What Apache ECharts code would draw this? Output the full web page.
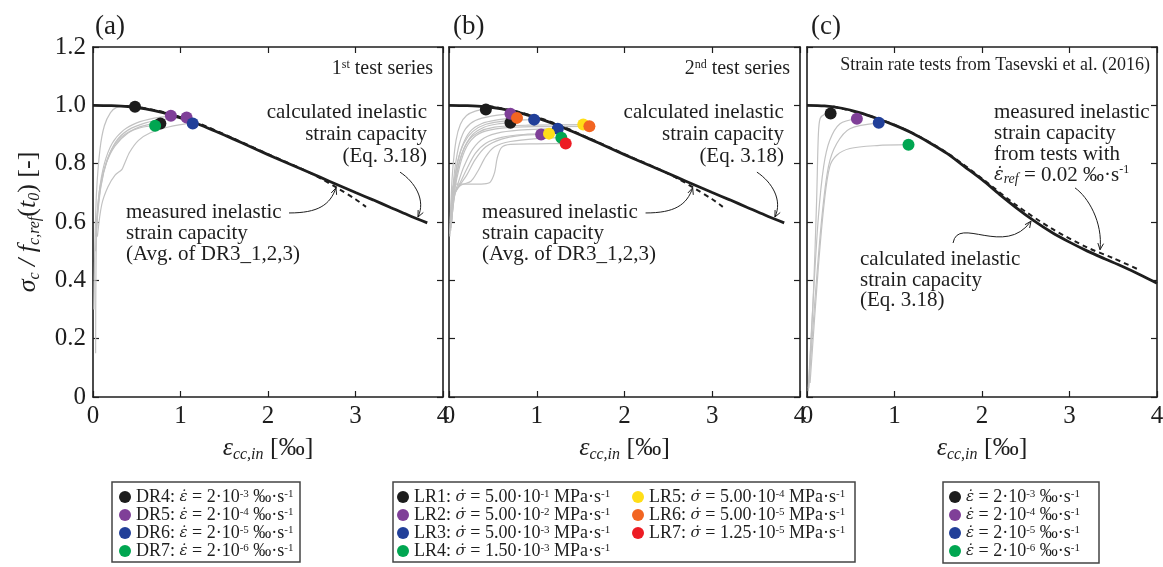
<!DOCTYPE html>
<html>
<head>
<meta charset="utf-8">
<script src="https://cdn.jsdelivr.net/npm/echarts@6/dist/echarts.min.js"></script>
<style>
  html, body { margin: 0; padding: 0; background: #fff; }
  #chart { width: 1163px; height: 567px; }
</style>
</head>
<body>
<div id="chart"></div>
<script>
const SERIF = '"Liberation Serif", "Times New Roman", serif';
const MARK_SERIF = '"DejaVu Serif", serif';
const INK = '#1e1e1e';
const GREY = '#c2c2c2';

// axis ticks
const strainTicks = [0, 1, 2, 3, 4];
const stressTicks = [0, 0.2, 0.4, 0.6, 0.8, 1.0, 1.2];

// calculated inelastic strain capacity (Eq. 3.18), test series 1 and 2
const calcCurveAB = [[0,1.0],[0.2,0.999],[0.4,0.996],[0.6,0.988],[0.8,0.975],[1.0,0.957],[1.2,0.936],[1.4,0.911],[1.6,0.885],[1.8,0.858],[2.0,0.831],[2.2,0.805],[2.4,0.779],[2.6,0.753],[2.8,0.727],[3.0,0.701],[3.2,0.676],[3.4,0.65],[3.6,0.624],[3.82,0.597]];
// measured inelastic strain capacity (avg. of DR3_1,2,3)
const measuredCurveAB = [[0.45,0.998],[0.8,0.977],[1.2,0.939],[1.6,0.887],[2.0,0.833],[2.4,0.78],[2.6,0.75],[2.8,0.715],[3.0,0.678],[3.12,0.652]];
// Tasevski et al. (2016)
const calcCurveC = [[0,1.0],[0.2,0.998],[0.4,0.99],[0.6,0.975],[0.8,0.955],[1.0,0.932],[1.2,0.905],[1.4,0.872],[1.6,0.835],[1.8,0.79],[2.0,0.745],[2.2,0.695],[2.4,0.647],[2.6,0.603],[2.8,0.564],[3.0,0.531],[3.2,0.501],[3.4,0.474],[3.6,0.448],[3.8,0.42],[4.0,0.39]];
const measuredCurveC = [[0.3,0.996],[0.8,0.956],[1.2,0.906],[1.6,0.837],[2.0,0.749],[2.4,0.656],[2.8,0.577],[3.2,0.513],[3.5,0.476],[3.79,0.437]];

// stress-strain test curves, 1st test series
const testCurvesA = [
  [[0.01,0.3],[0.02,0.5],[0.04,0.7],[0.08,0.85],[0.13,0.93],[0.2,0.975],[0.27,0.993],[0.38,0.998]],
  [[0.03,0.15],[0.033,0.4],[0.045,0.6],[0.08,0.72],[0.15,0.8],[0.25,0.86],[0.4,0.905],[0.55,0.924],[0.71,0.93]],
  [[0.03,0.5],[0.06,0.66],[0.12,0.77],[0.2,0.84],[0.32,0.89],[0.48,0.92],[0.62,0.933],[0.77,0.938]],
  [[0.03,0.55],[0.07,0.7],[0.13,0.8],[0.22,0.87],[0.35,0.915],[0.5,0.94],[0.7,0.956],[0.89,0.964]],
  [[0.04,0.58],[0.09,0.72],[0.16,0.81],[0.26,0.875],[0.4,0.915],[0.6,0.94],[0.85,0.954],[1.07,0.958]],
  [[0.05,0.55],[0.1,0.66],[0.17,0.72],[0.25,0.76],[0.33,0.78],[0.36,0.8],[0.42,0.84],[0.52,0.88],[0.65,0.905],[0.85,0.925],[1.0,0.934],[1.14,0.938]]
];
// stress-strain test curves, 2nd test series
const testCurvesB = [
  [[0.01,0.55],[0.02,0.65],[0.04,0.77],[0.08,0.88],[0.13,0.935],[0.2,0.965],[0.3,0.98],[0.42,0.986]],
  [[0.02,0.6],[0.04,0.7],[0.07,0.79],[0.12,0.87],[0.19,0.92],[0.3,0.948],[0.5,0.964],[0.70,0.971]],
  [[0.02,0.58],[0.05,0.7],[0.09,0.79],[0.15,0.86],[0.24,0.91],[0.37,0.937],[0.55,0.95],[0.775,0.957]],
  [[0.03,0.6],[0.06,0.7],[0.1,0.78],[0.17,0.85],[0.27,0.9],[0.4,0.925],[0.55,0.936],[0.70,0.94]],
  [[0.02,0.62],[0.05,0.72],[0.1,0.81],[0.17,0.87],[0.27,0.91],[0.42,0.935],[0.65,0.947],[0.97,0.951]],
  [[0.03,0.64],[0.07,0.74],[0.13,0.82],[0.21,0.875],[0.33,0.907],[0.52,0.925],[0.9,0.932],[1.53,0.934]],
  [[0.04,0.66],[0.09,0.75],[0.16,0.83],[0.25,0.88],[0.38,0.908],[0.6,0.922],[1.0,0.927],[1.60,0.928]],
  [[0.02,0.57],[0.05,0.68],[0.1,0.73],[0.17,0.79],[0.27,0.85],[0.4,0.888],[0.6,0.908],[0.9,0.917],[1.24,0.92]],
  [[0.03,0.6],[0.07,0.7],[0.12,0.73],[0.2,0.78],[0.3,0.835],[0.42,0.87],[0.6,0.89],[0.85,0.9],[1.14,0.903]],
  [[0.02,0.58],[0.06,0.69],[0.11,0.72],[0.2,0.76],[0.3,0.815],[0.42,0.858],[0.6,0.884],[0.8,0.896],[1.05,0.90]],
  [[0.03,0.6],[0.07,0.7],[0.13,0.725],[0.25,0.74],[0.33,0.775],[0.42,0.825],[0.52,0.858],[0.7,0.876],[1.0,0.886],[1.28,0.889]],
  [[0.01,0.56],[0.03,0.68],[0.06,0.73],[0.2,0.73],[0.4,0.731],[0.47,0.737],[0.52,0.77],[0.55,0.82],[0.6,0.856],[0.7,0.866],[1.0,0.868],[1.33,0.869]]
];
// strain rate tests, Tasevski et al. (2016)
const testCurvesC = [
  [[0.015,0.02],[0.07,0.33],[0.11,0.675],[0.13,0.9],[0.15,0.955],[0.2,0.969],[0.27,0.972]],
  [[0.015,0.03],[0.07,0.33],[0.13,0.617],[0.19,0.79],[0.26,0.88],[0.377,0.937],[0.57,0.954]],
  [[0.02,0.03],[0.09,0.33],[0.17,0.617],[0.245,0.79],[0.34,0.869],[0.49,0.92],[0.82,0.94]],
  [[0.035,0.048],[0.13,0.446],[0.2,0.675],[0.26,0.79],[0.34,0.829],[0.49,0.852],[0.8,0.862],[1.16,0.865]]
];

// peak points
const namesA = ['DR4', 'DR5', 'DR6', 'DR7'];
const peaksA = [
  [[0.48,0.995],[0.77,0.938]],
  [[0.89,0.964],[1.07,0.958]],
  [[1.14,0.938]],
  [[0.71,0.93]]
];
const rateExpA = ['-3', '-4', '-5', '-6'];

const namesB = ['LR1', 'LR2', 'LR3', 'LR4', 'LR5', 'LR6', 'LR7'];
const peaksB = [
  [[0.42,0.986],[0.70,0.94]],
  [[0.70,0.971],[1.05,0.90]],
  [[0.97,0.951],[1.24,0.92]],
  [[1.28,0.889]],
  [[1.14,0.903],[1.53,0.934]],
  [[0.775,0.957],[1.60,0.928]],
  [[1.33,0.869]]
];
const rateMantB = ['5.00', '5.00', '5.00', '1.50', '5.00', '5.00', '1.25'];
const rateExpB = ['-1', '-2', '-3', '-3', '-4', '-5', '-5'];

const namesC = ['T4', 'T5', 'T6', 'T7'];
const peaksC = [[[0.27,0.972]], [[0.57,0.954]], [[0.82,0.94]], [[1.16,0.865]]];
const rateExpC = ['-3', '-4', '-5', '-6'];

const colorsA = ['#1c1c1c', '#7f3f98', '#213f99', '#00a651'];
const colorsB = ['#1c1c1c', '#7f3f98', '#213f99', '#00a651', '#ffde17', '#f26522', '#ed1c24'];

const chart = echarts.init(document.getElementById('chart'));

const grids = [
  { left: 93, top: 47, width: 350, height: 350 },
  { left: 449, top: 47, width: 351, height: 350 },
  { left: 807, top: 47, width: 350, height: 350 }
].map(g => Object.assign({ outerBoundsMode: 'none', containLabel: false }, g));

const subRich = {
  n: { fontFamily: SERIF, fontSize: 26, color: INK, lineHeight: 30 },
  i: { fontFamily: SERIF, fontSize: 26, fontStyle: 'italic', color: INK, lineHeight: 30 },
  sub: { fontFamily: SERIF, fontSize: 16, fontStyle: 'italic', color: INK, lineHeight: 16, verticalAlign: 'bottom' }
};

const frameLine = { onZero: false, lineStyle: { color: INK, width: 1.6 } };
const frameTick = { inside: true, length: 6, lineStyle: { color: INK, width: 1.2 } };

const xAxes = [], yAxes = [];
for (let g = 0; g < 3; g++) {
  const bx = {
    gridIndex: g, type: 'value', min: strainTicks[0], max: strainTicks[strainTicks.length - 1], interval: 1,
    axisLine: frameLine, axisTick: frameTick, splitLine: { show: false }
  };
  xAxes.push(Object.assign({}, bx, {
    position: 'bottom',
    axisLabel: { fontFamily: SERIF, fontSize: 25, color: INK, margin: 7 },
    name: '{i|ε}{sub|cc,in}{n| [‰]}', nameLocation: 'middle', nameGap: 36,
    nameTextStyle: { rich: subRich }
  }));
  xAxes.push(Object.assign({}, bx, { position: 'top', axisLabel: { show: false } }));
  const by = {
    gridIndex: g, type: 'value', min: stressTicks[0], max: stressTicks[stressTicks.length - 1], interval: 0.2,
    axisLine: frameLine, axisTick: frameTick, splitLine: { show: false }
  };
  yAxes.push(Object.assign({}, by, {
    position: 'left',
    axisLabel: g === 0 ? {
      fontFamily: SERIF, fontSize: 25, color: INK, margin: 7,
      formatter: v => (v === 0 ? '0' : v.toFixed(1))
    } : { show: false },
    name: g === 0 ? '{i|σ}{sub|c}{i| / f}{sub|c,ref}{n|(}{i|t}{sub|0}{n|) [-]}' : '',
    nameLocation: 'middle', nameGap: 50, nameRotate: 90,
    nameTextStyle: { rich: subRich }
  }));
  yAxes.push(Object.assign({}, by, { position: 'right', axisLabel: { show: false } }));
}

const series = [];
function addLine(g, data, style, z) {
  series.push({
    type: 'line', xAxisIndex: 2 * g, yAxisIndex: 2 * g, data, smooth: 0.3,
    symbol: 'none', silent: true, lineStyle: style, z, animation: false
  });
}
testCurvesA.forEach(c => addLine(0, c, { color: GREY, width: 1.2 }, 2));
testCurvesB.forEach(c => addLine(1, c, { color: GREY, width: 1.2 }, 2));
testCurvesC.forEach(c => addLine(2, c, { color: GREY, width: 1.2 }, 2));
[0, 1].forEach(g => {
  addLine(g, measuredCurveAB, { color: INK, width: 2, type: [5, 4] }, 3);
  addLine(g, calcCurveAB, { color: INK, width: 2.8 }, 4);
});
addLine(2, measuredCurveC, { color: INK, width: 2, type: [5, 4] }, 3);
addLine(2, calcCurveC, { color: INK, width: 2.8 }, 4);

function addPeaks(g, names, peaks, colors) {
  names.forEach((n, i) => series.push({
    type: 'scatter', name: n, xAxisIndex: 2 * g, yAxisIndex: 2 * g, data: peaks[i],
    symbol: 'circle', symbolSize: 12, itemStyle: { color: colors[i], opacity: 1 },
    z: 10, silent: true, animation: false
  }));
}
addPeaks(0, namesA, peaksA, colorsA);
addPeaks(1, namesB, peaksB, colorsB);
addPeaks(2, namesC, peaksC, colorsA);

// legend labels (rate symbols with a dot above, set in a font with mark positioning)
const legendLabel = {};
const EPS_DOT = 'ε\u0307', SIG_DOT = 'σ\u0307';
namesA.forEach((n, i) => legendLabel[n] = `{n|${n}: }{d|${EPS_DOT}}{n| = 2·10}{s|${rateExpA[i]}}{n| ‰·s}{s|-1}`);
namesB.forEach((n, i) => legendLabel[n] = `{n|${n}: }{d|${SIG_DOT}}{n| = ${rateMantB[i]}·10}{s|${rateExpB[i]}}{n| MPa·s}{s|-1}`);
namesC.forEach((n, i) => legendLabel[n] = `{d|${EPS_DOT}}{n| = 2·10}{s|${rateExpC[i]}}{n| ‰·s}{s|-1}`);

const legendRich = {
  n: { fontFamily: SERIF, fontSize: 18, color: INK, lineHeight: 17 },
  d: { fontFamily: MARK_SERIF, fontSize: 15, fontStyle: 'italic', color: INK, lineHeight: 17 },
  s: { fontFamily: SERIF, fontSize: 11, color: INK, lineHeight: 7, verticalAlign: 'top' }
};
function legendAt(data, left, top) {
  return {
    data, left, top, orient: 'vertical', icon: 'circle', itemWidth: 12, itemHeight: 12,
    itemGap: 0, itemTextGap: 8, padding: 0, selectedMode: false,
    formatter: name => legendLabel[name],
    textStyle: { fontFamily: SERIF, fontSize: 18, color: INK, rich: legendRich }
  };
}

const titleStyle = { fontFamily: SERIF, fontSize: 27, fontWeight: 'normal', color: INK };

chart.setOption({
  animation: false,
  backgroundColor: '#fff',
  grid: grids,
  xAxis: xAxes,
  yAxis: yAxes,
  series,
  title: [
    { text: '(a)', left: 90, top: 8, textStyle: titleStyle },
    { text: '(b)', left: 448, top: 8, textStyle: titleStyle },
    { text: '(c)', left: 806, top: 8, textStyle: titleStyle }
  ],
  legend: [
    legendAt(namesA, 119, 488),
    legendAt(namesB.slice(0, 4), 397, 488),
    legendAt(namesB.slice(4), 632, 488),
    legendAt(namesC, 949, 488)
  ]
});

// annotations placed in data coordinates of each panel
function P(g, x, y) { return chart.convertToPixel({ gridIndex: g }, [x, y]); }
const noteRich = {
  n: { fontFamily: SERIF, fontSize: 21, color: INK, lineHeight: 22 },
  d: { fontFamily: MARK_SERIF, fontSize: 18, fontStyle: 'italic', color: INK, lineHeight: 22 },
  s: { fontFamily: SERIF, fontSize: 12, color: INK, lineHeight: 9, verticalAlign: 'top' },
  b: { fontFamily: SERIF, fontSize: 14, fontStyle: 'italic', color: INK, lineHeight: 12, verticalAlign: 'bottom' },
  t: { fontFamily: SERIF, fontSize: 20, color: INK, lineHeight: 20 },
  ts: { fontFamily: SERIF, fontSize: 12, color: INK, lineHeight: 8, verticalAlign: 'top' },
  h: { fontFamily: SERIF, fontSize: 18, color: INK, lineHeight: 20 }
};
function block(g, x, y, lines, align, gap) {
  const p = P(g, x, y);
  return lines.map((t, k) => ({
    type: 'text', x: p[0], y: p[1] + k * gap, silent: true, z: 20,
    style: { text: t, align, verticalAlign: 'middle', rich: noteRich, fill: INK,
             fontFamily: SERIF, fontSize: 21 }
  }));
}
function arrow(g, pts) {
  const [a, b, c, d] = pts.map(q => P(g, q[0], q[1]));
  const ang = Math.atan2(d[1] - c[1], d[0] - c[0]);
  const L = 7, sp = 0.42;
  const st = { stroke: INK, lineWidth: 1, fill: 'none' };
  return [
    { type: 'bezierCurve', silent: true, z: 20,
      shape: { x1: a[0], y1: a[1], cpx1: b[0], cpy1: b[1], cpx2: c[0], cpy2: c[1], x2: d[0], y2: d[1] }, style: st },
    { type: 'polyline', silent: true, z: 20,
      shape: { points: [
        [d[0] - L * Math.cos(ang - sp), d[1] - L * Math.sin(ang - sp)], d,
        [d[0] - L * Math.cos(ang + sp), d[1] - L * Math.sin(ang + sp)] ] }, style: st }
  ];
}

const graphics = [];
[['1', 'st'], ['2', 'nd']].forEach(([num, ord], g) => {
  graphics.push(...block(g, 3.886, 1.125, [`{t|${num}}{ts|${ord}}{t| test series}`], 'right', 0));
  graphics.push(...block(g, 3.817, 0.974,
    ['{n|calculated inelastic}', '{n|strain capacity}', '{n|(Eq. 3.18)}'], 'right', 22));
  graphics.push(...arrow(g, [[3.509, 0.771], [3.68, 0.737], [3.806, 0.675], [3.714, 0.617]]));
  graphics.push(...block(g, 0.377, 0.631,
    ['{n|measured inelastic}', '{n|strain capacity}', '{n|(Avg. of DR3_1,2,3)}'], 'left', 21));
  graphics.push(...arrow(g, [[2.24, 0.631], [2.571, 0.631], [2.709, 0.658], [2.777, 0.717]]));
});
graphics.push(...block(2, 3.92, 1.138, ['{h|Strain rate tests from Tasevski et al. (2016)}'], 'right', 0));
graphics.push(...block(2, 2.137, 0.977,
  ['{n|measured inelastic}', '{n|strain capacity}', '{n|from tests with}',
   `{d|${EPS_DOT}}{b|ref}{n| = 0.02 ‰·s}{s|-1}`], 'left', 21));
graphics.push(...arrow(2, [[3.063, 0.717], [3.211, 0.686], [3.383, 0.6], [3.349, 0.505]]));
graphics.push(...block(2, 0.606, 0.47,
  ['{n|calculated inelastic}', '{n|strain capacity}', '{n|(Eq. 3.18)}'], 'left', 20.5));
graphics.push(...arrow(2, [[1.669, 0.528], [1.726, 0.624], [2.263, 0.477], [2.56, 0.603]]));

// legend frames
[[112, 482, 188, 80], [393, 482, 462, 80], [943, 482, 156, 81]].forEach(([x, y, w, h]) => {
  graphics.push({ type: 'rect', silent: true, shape: { x, y, width: w, height: h },
                  style: { stroke: '#444', lineWidth: 1.5, fill: 'none' } });
});

chart.setOption({ graphic: graphics });
</script>
</body>
</html>
